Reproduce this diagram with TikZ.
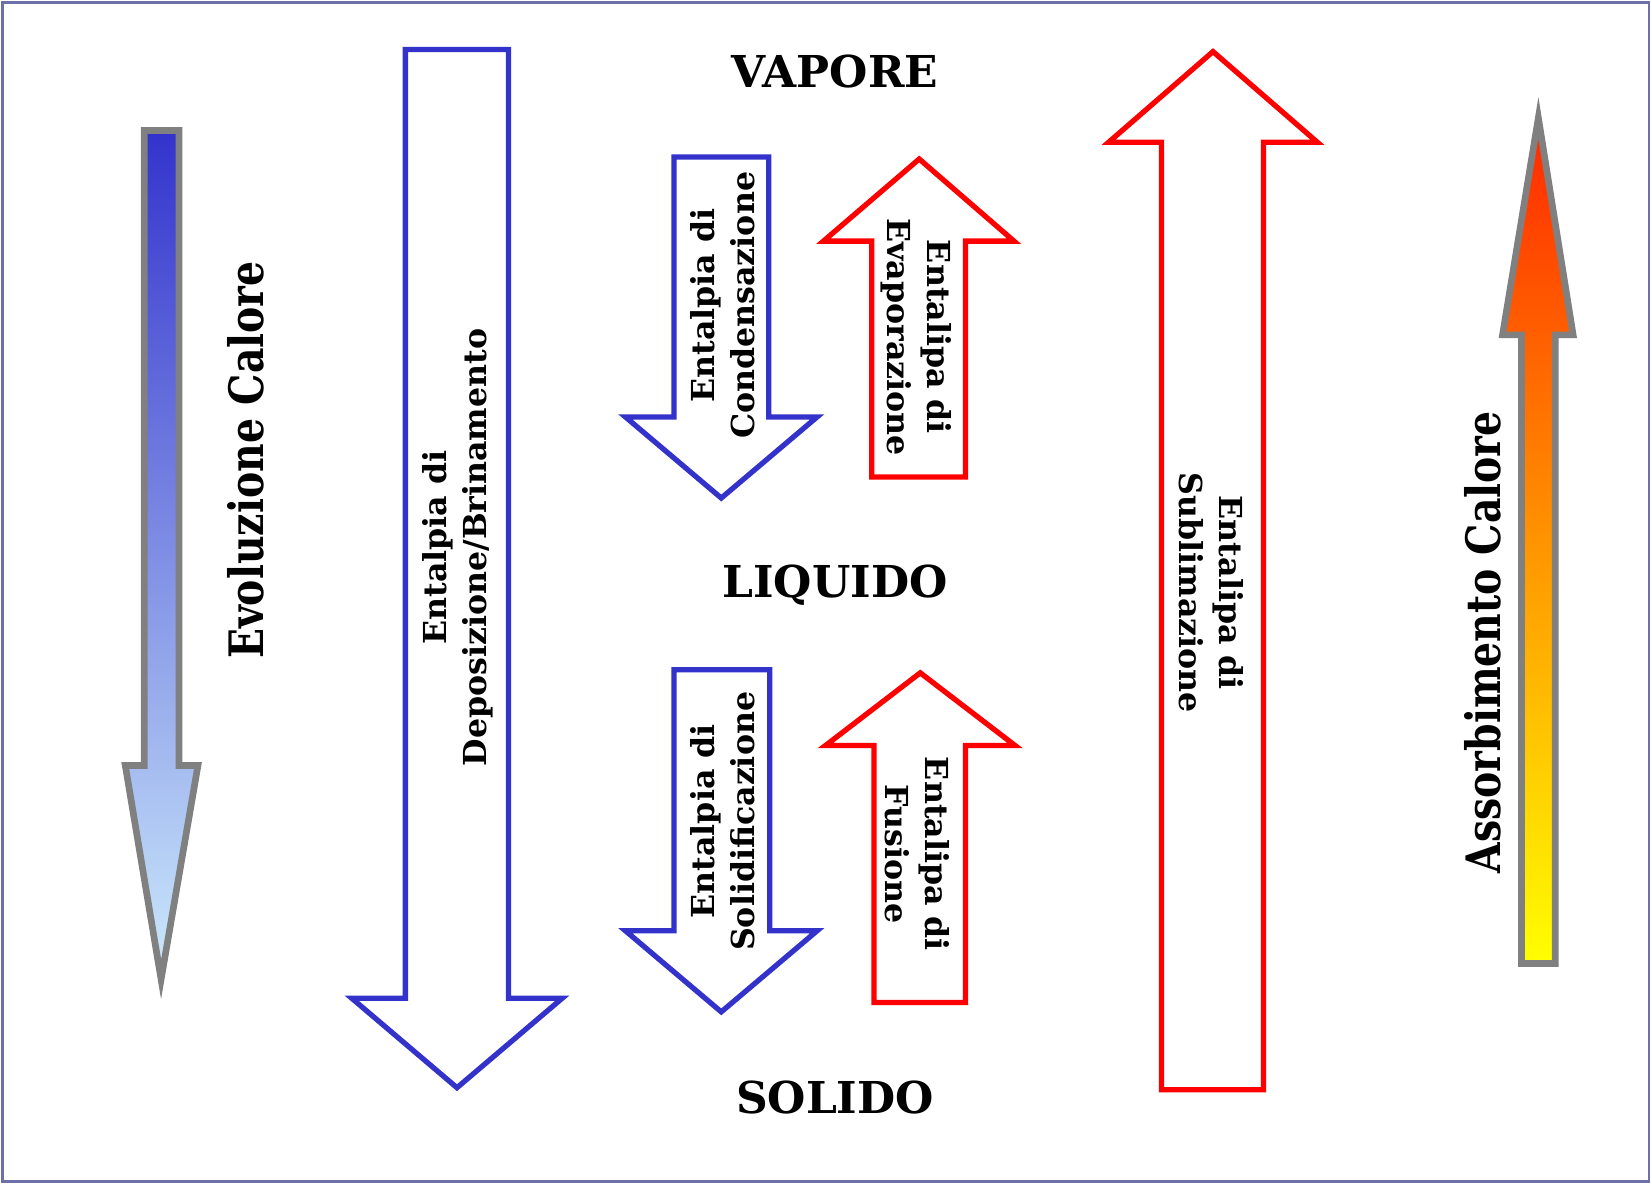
\documentclass[tikz,border=0pt]{standalone}
\usepackage{fontspec}
\setmainfont{DejaVu Serif}
\usepackage{graphicx}
\usepackage{tikz}
\definecolor{coolblue}{RGB}{51, 51, 204}
\definecolor{hotred}{RGB}{255, 0, 0}
\definecolor{framecol}{RGB}{112, 112, 168}
\definecolor{heatgray}{RGB}{128, 128, 128}
\tikzset{
  coolarrow/.style={
    draw=coolblue, line width=3pt, fill=white,
    line join=miter
  },
  hotarrow/.style={
    draw=hotred, line width=3pt, fill=white,
    line join=miter
  },
  heatarrow/.style={
    draw=heatgray, line width=3.8pt,
    line join=miter
  },
  phase/.style={
    font=\fontsize{25}{30}\selectfont\bfseries
  },
  enthalpy/.style={
    font=\fontsize{18}{22.7}\selectfont\bfseries,
    align=center
  },
  heatlabel/.style={
    font=\fontsize{27}{30}\selectfont\bfseries,
    rotate=90
  }
}

\begin{document}
\begin{tikzpicture}[x=0.02106cm, y=-0.02106cm]

\useasboundingbox (0, 0) rectangle (1568, 1124);
\draw[framecol, line width=1.6pt] (2, 2) rectangle (1566, 1122);

% Frecce di calore (sfumate)
\draw[heatarrow, top color=coolblue, middle color={rgb,255:red,143;green,161;blue,223},
  bottom color={rgb,255:red,204;green,234;blue,252}]
  (137, 124) -- (170, 124) -- (170, 727) -- (188, 727) -- (153, 930)
  -- (119, 727) -- (137, 727) -- cycle;
\draw[heatarrow, top color={rgb,255:red,255;green,40;blue,0},
  middle color={rgb,255:red,255;green,176;blue,0}, bottom color=yellow]
  (1445, 915) -- (1477, 915) -- (1477, 318) -- (1494, 318) -- (1461, 112)
  -- (1427, 318) -- (1445, 318) -- cycle;

\node[heatlabel] (evol) at (233, 437) {\scalebox{0.83}[1]{Evoluzione Calore}};
\node[heatlabel] (assorb) at (1408, 610) {\scalebox{0.83}[1]{Assorbimento Calore}};

% Frecce verso il basso
\draw[coolarrow] (385, 47) -- (483, 47) -- (483, 948) -- (534, 948) -- (434, 1033)
  -- (334, 948) -- (385, 948) -- cycle;
\draw[coolarrow] (640, 149) -- (730, 149) -- (730, 396) -- (776, 396) -- (685, 473)
  -- (594, 396) -- (640, 396) -- cycle;
\draw[coolarrow] (640, 636) -- (731, 636) -- (731, 884) -- (776, 884) -- (685, 961)
  -- (594, 884) -- (640, 884) -- cycle;

% Frecce verso l'alto
\draw[hotarrow] (828, 453) -- (917, 453) -- (917, 229) -- (963, 229) -- (873, 151)
  -- (782, 229) -- (828, 229) -- cycle;
\draw[hotarrow] (830, 952) -- (917, 952) -- (917, 708) -- (964, 708) -- (874, 639)
  -- (784, 708) -- (830, 708) -- cycle;
\draw[hotarrow] (1103, 1035) -- (1200, 1035) -- (1200, 135) -- (1251, 135) -- (1152, 49)
  -- (1053, 135) -- (1103, 135) -- cycle;

% Stati
\node[phase] (vapore) at (793, 68) {VAPORE};
\node[phase] (liquido) at (793, 556) {LIQUIDO};
\node[phase] (solido) at (793, 1042) {SOLIDO};

% Etichette delle entalpie
\node[enthalpy, rotate=90] (depos) at (435, 520) {Entalpia di\\Deposizione/Brinamento};
\node[enthalpy, rotate=90] (conden) at (686, 290) {Entalpia di\\Condensazione};
\node[enthalpy, rotate=90] (solidif) at (686, 780) {Entalpia di\\Solidificazione};
\node[enthalpy, rotate=-90] (evapor) at (870, 320) {Entalipa di\\Evaporazione};
\node[enthalpy, rotate=-90] (fusion) at (871, 811) {Entalipa di\\Fusione};
\node[enthalpy, rotate=-90] (sublim) at (1150, 563) {Entalipa di\\Sublimazione};

\end{tikzpicture}
\end{document}
